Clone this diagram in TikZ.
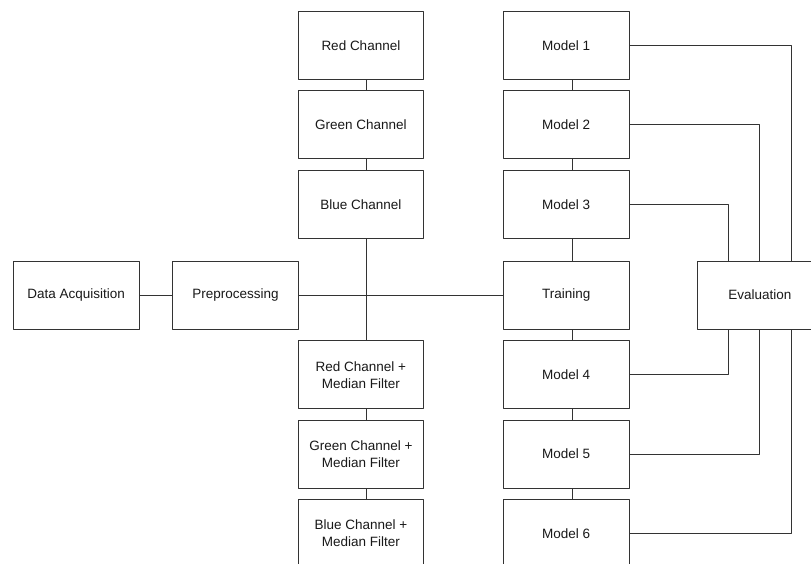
\documentclass[tikz,border=0pt]{standalone}
\usepackage{fontspec}
\setmainfont{Liberation Sans}
\usetikzlibrary{positioning,calc}

\tikzset{
  blk/.style={draw=black!80, fill=white, line width=1pt, minimum width=125.7pt, minimum height=68pt,
    inner sep=0pt, align=center, text=black!90, font=\fontsize{13.5}{17}\selectfont},
  wire/.style={draw=black!80, line width=1pt},
}

\begin{document}
\begin{tikzpicture}[x=1pt,y=-1pt,line join=round]
\useasboundingbox (0,0) rectangle (811,563);
\clip (0,0) rectangle (811,563);
% model column
\node[blk] (train) at (566.2,295) {Training};
\node[blk,above=21.7pt of train] (m3) {Model 3};
\node[blk,above=10.4pt of m3] (m2) {Model 2};
\node[blk,above=10.4pt of m2] (m1) {Model 1};
\node[blk,below=10.7pt of train] (m4) {Model 4};
\node[blk,below=10.4pt of m4] (m5) {Model 5};
\node[blk,below=10.4pt of m5] (m6) {Model 6};
% channel column
\node[blk,left=78.6pt of m3] (blue) {Blue Channel};
\node[blk,above=10.4pt of blue] (green) {Green Channel};
\node[blk,above=10.4pt of green] (red) {Red Channel};
\node[blk,left=78.6pt of m4] (redmf) {Red Channel +\\Median Filter};
\node[blk,below=10.4pt of redmf] (greenmf) {Green Channel +\\Median Filter};
\node[blk,below=10.4pt of greenmf] (bluemf) {Blue Channel +\\Median Filter};
% left and right
\node[blk] (prep) at (235.5,295) {Preprocessing};
\node[blk] (daq) at (76.2,295) {Data Acquisition};
\node[blk,right=67pt of train] (eval) {Evaluation};

\draw[wire] (daq) -- (prep);
\draw[wire] (prep) -- (train);
\foreach \a/\b in {red/green,green/blue,blue/redmf,redmf/greenmf,greenmf/bluemf,m1/m2,m2/m3,m3/train,train/m4,m4/m5,m5/m6}
  {\draw[wire] ([xshift=5.8pt]\a.south) -- ([xshift=5.8pt]\b.north);}

\coordinate (et1) at ($(eval.north west)!0.75!(eval.north east)$);
\coordinate (et2) at (eval.north);
\coordinate (et3) at ($(eval.north west)!0.25!(eval.north east)$);
\coordinate (eb4) at ($(eval.south west)!0.25!(eval.south east)$);
\coordinate (eb5) at (eval.south);
\coordinate (eb6) at ($(eval.south west)!0.75!(eval.south east)$);
\draw[wire] (m1.east) -| (et1);
\draw[wire] (m2.east) -| (et2);
\draw[wire] (m3.east) -| (et3);
\draw[wire] (m4.east) -| (eb4);
\draw[wire] (m5.east) -| (eb5);
\draw[wire] (m6.east) -| (eb6);
\end{tikzpicture}
\end{document}
